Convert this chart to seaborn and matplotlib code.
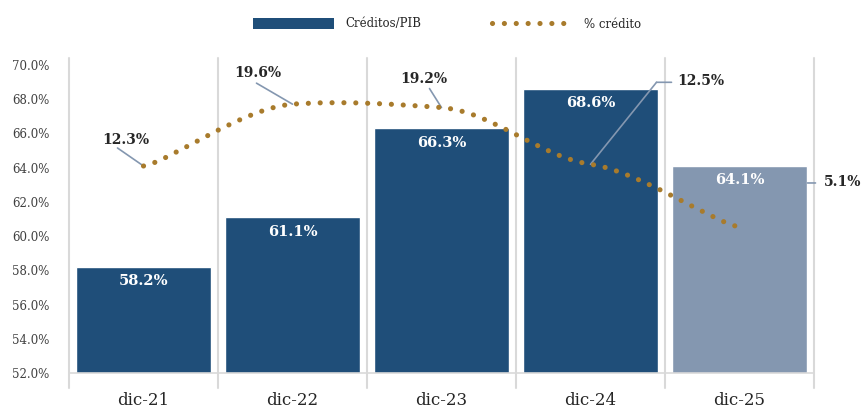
import matplotlib
matplotlib.use("Agg")
import matplotlib.pyplot as plt
from matplotlib.path import Path
from matplotlib.patches import PathPatch, Patch
from matplotlib.lines import Line2D
from matplotlib.transforms import offset_copy
import seaborn as sns
import pandas as pd

# Data
periods = ["dic-21", "dic-22", "dic-23", "dic-24", "dic-25"]
credit_to_gdp = [58.2, 61.1, 66.3, 68.6, 64.1]      # Créditos/PIB (%)
credit_growth = [12.3, 19.6, 19.2, 12.5, 5.1]       # % crédito
y_ticks = [52, 54, 56, 58, 60, 62, 64, 66, 68, 70]

DARK = "#1F4E79"
LIGHT = "#8497B0"
GOLD = "#A87B2C"
LEADER = "#8497B0"
GRID = "#D9D9D9"
TEXT = "#262626"

sns.set_style("white")
plt.rcParams["font.family"] = ["DejaVu Serif"]

fig = plt.figure(figsize=(8.61, 4.08), dpi=100)
ax = fig.add_axes([69 / 861, 1 - 373 / 408, (814 - 69) / 861, (373 - 58) / 408])

df = pd.DataFrame({"period": periods, "value": credit_to_gdp})
bar_colors = [DARK, DARK, DARK, DARK, LIGHT]
sns.barplot(data=df, x="period", y="value", hue="period", palette=bar_colors,
            legend=False, width=0.91, saturation=1, ax=ax, zorder=2)

ax.set_ylim(52, 70.4)
ax.set_xlim(-0.5, len(periods) - 0.5)
ax.set_yticks(y_ticks)
ax.set_yticklabels([f"{t:.1f}%" for t in y_ticks])
ax.set_xlabel("")
ax.set_ylabel("")
ax.tick_params(axis="y", length=0, pad=14, labelsize=8.5, labelcolor="#404040")
ax.tick_params(axis="x", length=0, pad=14, labelsize=12, labelcolor=TEXT)

for side in ["top", "right", "left"]:
    ax.spines[side].set_visible(False)
ax.spines["bottom"].set_color(GRID)
ax.spines["bottom"].set_linewidth(1.2)

# Category separators, extending below the axis as tick marks
for b in range(len(periods) + 1):
    ax.axvline(b - 0.5, ymin=-0.048, ymax=1, color=GRID, lw=1.5,
               clip_on=False, zorder=1)

# Value labels inside the bars
for i, v in enumerate(credit_to_gdp):
    ax.annotate(f"{v:.1f}%", xy=(i, v), xytext=(0, -10.5),
                textcoords="offset points", ha="center", va="center",
                color="white", fontsize=10.5, fontweight="bold", zorder=5)

# Lightly smoothed credit growth line on a secondary scale
ax2 = ax.twinx()
ax2.set_ylim(-12.14, 25.05)
ax2.axis("off")

TENSION = 0.06
pts = list(zip(range(len(credit_growth)), credit_growth))
verts = [pts[0]]
codes = [Path.MOVETO]
n = len(pts)
for i in range(n - 1):
    p_prev = pts[i - 1] if i > 0 else pts[i]
    p0 = pts[i]
    p1 = pts[i + 1]
    p_next = pts[i + 2] if i + 2 < n else pts[i + 1]
    c1 = (p0[0] + (p1[0] - p_prev[0]) / 6,
          p0[1] + (p1[1] - p_prev[1]) * TENSION)
    c2 = (p1[0] - (p_next[0] - p0[0]) / 6,
          p1[1] - (p_next[1] - p0[1]) * TENSION)
    verts += [c1, c2, p1]
    codes += [Path.CURVE4] * 3

DOT_LW = 3.7
dot_style = (0, (0.01, 2.3))
curve = PathPatch(Path(verts, codes), fill=False, edgecolor=GOLD, lw=DOT_LW,
                  linestyle=dot_style, capstyle="round", zorder=4)
ax2.add_patch(curve)

PX = 0.72  # points per pixel at 100 dpi


def leader(i, v, p_from, p_to):
    """Straight leader segment between two pixel offsets from a data point."""
    anchor = offset_copy(ax2.transData, fig=fig, x=p_to[0] * PX,
                         y=p_to[1] * PX, units="points")
    ax2.annotate("", xy=(i, v), xycoords=anchor,
                 xytext=((p_from[0] - p_to[0]) * PX, (p_from[1] - p_to[1]) * PX),
                 textcoords="offset points",
                 arrowprops=dict(arrowstyle="-", color=LEADER, lw=1.2,
                                 shrinkA=0, shrinkB=0))


# Leader polylines (pixel offsets from each point) and label positions
leaders = [
    [((-26, 18), (0, 0))],
    [((-36, 21), (0, 0))],
    [((-12, 19), (0, 0))],
    [((66, 82), (0, 0)), ((81, 82), (66, 82))],
    [((76, 44), (68, 44))],
]
label_pos = [((-18, 26), "center"), ((-35, 31), "center"), ((-18, 29), "center"),
             ((87, 83), "left"), ((84, 45), "left")]

for i, v in enumerate(credit_growth):
    for seg in leaders[i]:
        leader(i, v, *seg)
    (tx, ty), ha = label_pos[i]
    ax2.annotate(f"{v:.1f}%", xy=(i, v), xytext=(tx * PX, ty * PX),
                 textcoords="offset points", ha=ha, va="center",
                 color=TEXT, fontsize=10, fontweight="bold")

# Legend
handles = [
    Patch(facecolor=DARK, edgecolor="none"),
    Line2D([0], [0], color=GOLD, lw=DOT_LW, linestyle=dot_style,
           dash_capstyle="round"),
]
fig.legend(handles, ["Créditos/PIB", "% crédito"], loc="center",
           bbox_to_anchor=(447 / 861, 1 - 24 / 408), ncol=2, frameon=False,
           fontsize=8.5, handlelength=6.9, handleheight=1.0,
           handletextpad=0.9, columnspacing=6.0, labelcolor=TEXT)

fig.savefig("out.png", dpi=100)
